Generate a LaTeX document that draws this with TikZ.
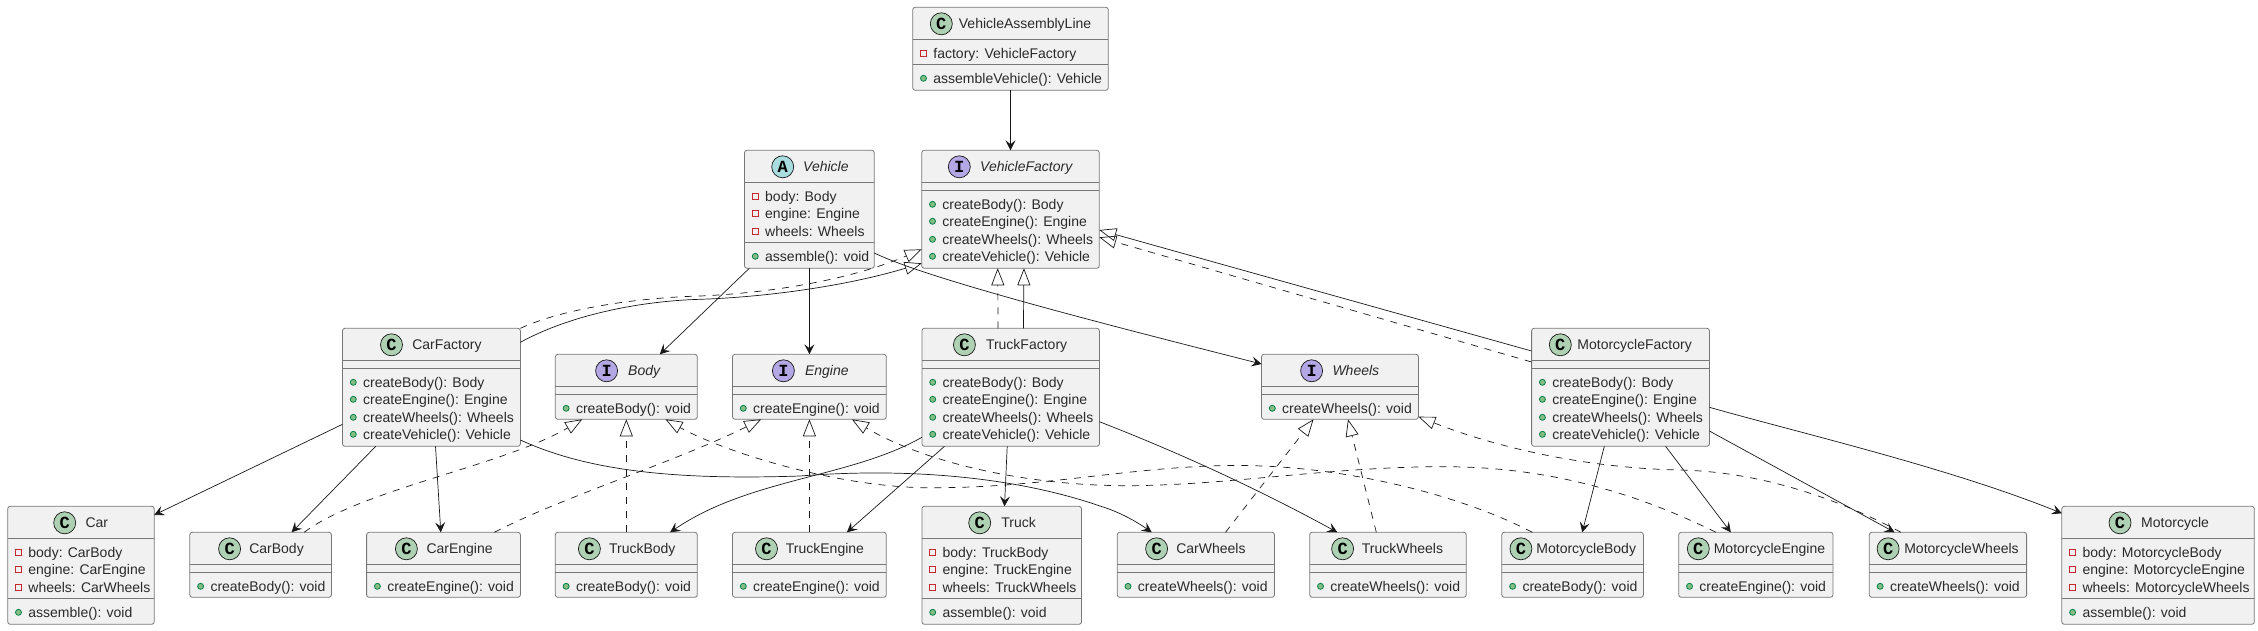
\documentclass[tikz,border=0pt]{standalone}
\usepackage{fontspec}
\setmainfont{Liberation Sans}
\newfontfamily\spotfont{Liberation Mono}
\usetikzlibrary{arrows.meta}
\definecolor{linedark}{HTML}{181818}
\definecolor{boxline}{HTML}{777777}
\definecolor{boxfill}{HTML}{F1F1F1}
\definecolor{spotC}{HTML}{ADD1B2}
\definecolor{spotA}{HTML}{A9DCDF}
\definecolor{spotI}{HTML}{B4A7E5}
\definecolor{privline}{HTML}{C82930}
\definecolor{publine}{HTML}{038048}
\definecolor{pubfill}{HTML}{84BE84}
\definecolor{textdark}{HTML}{2A2A2A}
\tikzset{
  classbox/.style={draw=boxline,fill=boxfill,line width=0.8pt,rounded corners=2.5pt,inner sep=0pt,outer sep=0pt},
  sepline/.style={draw=boxline,line width=0.8pt},
  spot/.style={circle,draw=linedark,line width=0.7pt,minimum size=22pt,inner sep=0pt,font=\spotfont\bfseries\fontsize{17pt}{17pt}\selectfont},
  titletext/.style={anchor=base west,inner sep=0pt,font=\fontsize{14pt}{16pt}\selectfont,text=textdark},
  membertext/.style={anchor=base west,inner sep=0pt,font=\fontsize{14pt}{16pt}\selectfont,text=textdark},
  privmark/.style={rectangle,draw=privline,line width=0.8pt,minimum size=6pt,inner sep=0pt},
  pubmark/.style={circle,draw=publine,fill=pubfill,line width=0.8pt,minimum size=6pt,inner sep=0pt},
  assoc/.style={draw=linedark,line width=0.7pt,-{Stealth[length=10pt,width=10pt,inset=4pt]}},
  extends/.style={draw=linedark,line width=0.7pt,-{Triangle[open,length=17pt,width=13pt]}},
  realizes/.style={extends,dash pattern=on 7pt off 7pt},
}
% name, left, top, right, bottom, offset of the second rule
\newcommand{\umlbox}[6]{
  \node[classbox,minimum width={(#4-#2)*1pt},minimum height={(#5-#3)*1pt}] (#1) at ({(#2+#4)/2},{(#3+#5)/2}) {};
  \draw[sepline] ([yshift=-32pt]#1.north west) -- ([yshift=-32pt]#1.north east);
  \draw[sepline] ([yshift=-#6pt]#1.north west) -- ([yshift=-#6pt]#1.north east);
}
% name, letter, spot offset, text offset, title
\newcommand{\umlhead}[5]{
  \node[spot,fill=spot#2] (#1Spot) at ([xshift=#3pt,yshift=-16.5pt]#1.north west) {#2};
  \node[titletext] (#1Title) at ([xshift=#4pt,yshift=-21.5pt]#1.north west) {#5};
}
% name, row, offset from the top, text
\newcommand{\umlfield}[4]{
  \node[privmark] (#1Mark#2) at ([xshift=10.8pt,yshift=-#3pt]#1.north west) {};
  \node[membertext] (#1Row#2) at ([xshift=20.5pt,yshift=-#3pt-5pt]#1.north west) {#4};
}
\newcommand{\umlmethod}[4]{
  \node[pubmark] (#1Mark#2) at ([xshift=10.8pt,yshift=-#3pt]#1.north west) {};
  \node[membertext] (#1Row#2) at ([xshift=20.5pt,yshift=-#3pt-5pt]#1.north west) {#4};
}
\begin{document}
\begin{tikzpicture}[x=1pt,y=-1pt]
  \useasboundingbox (0,0) rectangle (2258,630);

  %Top row
  \umlbox{AssemblyLine}{912.7}{7.3}{1108.3}{90.3}{57}
  \umlhead{AssemblyLine}{C}{28.6}{46}{VehicleAssemblyLine}
  \umlfield{AssemblyLine}{1}{45.7}{factory: VehicleFactory}
  \umlmethod{AssemblyLine}{2}{71}{assembleVehicle(): Vehicle}

  \umlbox{Vehicle}{744.5}{150.3}{874.3}{268.3}{92}
  \umlhead{Vehicle}{A}{38.2}{58.5}{\itshape Vehicle}
  \umlfield{Vehicle}{1}{46}{body: Body}
  \umlfield{Vehicle}{2}{63}{engine: Engine}
  \umlfield{Vehicle}{3}{81}{wheels: Wheels}
  \umlmethod{Vehicle}{4}{106}{assemble(): void}

  \umlbox{VehicleFactory}{921.7}{150.3}{1099.3}{268.3}{40}
  \umlhead{VehicleFactory}{I}{37.6}{58.3}{\itshape VehicleFactory}
  \umlmethod{VehicleFactory}{1}{54}{createBody(): Body}
  \umlmethod{VehicleFactory}{2}{71}{createEngine(): Engine}
  \umlmethod{VehicleFactory}{3}{89}{createWheels(): Wheels}
  \umlmethod{VehicleFactory}{4}{106}{createVehicle(): Vehicle}

  %Factories
  \umlbox{CarFactory}{342.5}{328.3}{520.4}{446.3}{40}
  \umlhead{CarFactory}{C}{49}{69.6}{CarFactory}
  \umlmethod{CarFactory}{1}{54}{createBody(): Body}
  \umlmethod{CarFactory}{2}{71}{createEngine(): Engine}
  \umlmethod{CarFactory}{3}{89}{createWheels(): Wheels}
  \umlmethod{CarFactory}{4}{106}{createVehicle(): Vehicle}

  \umlbox{TruckFactory}{921.9}{328.3}{1099.4}{446.3}{40}
  \umlhead{TruckFactory}{C}{42.5}{63.9}{TruckFactory}
  \umlmethod{TruckFactory}{1}{54}{createBody(): Body}
  \umlmethod{TruckFactory}{2}{71}{createEngine(): Engine}
  \umlmethod{TruckFactory}{3}{89}{createWheels(): Wheels}
  \umlmethod{TruckFactory}{4}{106}{createVehicle(): Vehicle}

  \umlbox{MotorcycleFactory}{1531.6}{328.3}{1709.4}{446.3}{40}
  \umlhead{MotorcycleFactory}{C}{28.7}{45.6}{MotorcycleFactory}
  \umlmethod{MotorcycleFactory}{1}{54}{createBody(): Body}
  \umlmethod{MotorcycleFactory}{2}{71}{createEngine(): Engine}
  \umlmethod{MotorcycleFactory}{3}{89}{createWheels(): Wheels}
  \umlmethod{MotorcycleFactory}{4}{106}{createVehicle(): Vehicle}

  %Interfaces
  \umlbox{Body}{555.3}{354.3}{697.3}{419.3}{40}
  \umlhead{Body}{I}{51.3}{72.7}{\itshape Body}
  \umlmethod{Body}{1}{54}{createBody(): void}

  \umlbox{Engine}{732.5}{354.3}{886.3}{419.3}{40}
  \umlhead{Engine}{I}{50.9}{72.3}{\itshape Engine}
  \umlmethod{Engine}{1}{54}{createEngine(): void}

  \umlbox{Wheels}{1261.5}{354.3}{1418.4}{419.3}{40}
  \umlhead{Wheels}{I}{50.1}{70.8}{\itshape Wheels}
  \umlmethod{Wheels}{1}{54}{createWheels(): void}

  %Vehicles
  \umlbox{Car}{7.7}{506.3}{154.2}{624.3}{92}
  \umlhead{Car}{C}{57}{77.6}{Car}
  \umlfield{Car}{1}{46}{body: CarBody}
  \umlfield{Car}{2}{63}{engine: CarEngine}
  \umlfield{Car}{3}{81}{wheels: CarWheels}
  \umlmethod{Car}{4}{106}{assemble(): void}

  \umlbox{Truck}{921.9}{506.3}{1081.5}{624.3}{92}
  \umlhead{Truck}{C}{57.8}{79.2}{Truck}
  \umlfield{Truck}{1}{46}{body: TruckBody}
  \umlfield{Truck}{2}{63}{engine: TruckEngine}
  \umlfield{Truck}{3}{81}{wheels: TruckWheels}
  \umlmethod{Truck}{4}{106}{assemble(): void}

  \umlbox{Motorcycle}{2061.8}{506.3}{2254.3}{624.3}{92}
  \umlhead{Motorcycle}{C}{58.2}{79.2}{Motorcycle}
  \umlfield{Motorcycle}{1}{46}{body: MotorcycleBody}
  \umlfield{Motorcycle}{2}{63}{engine: MotorcycleEngine}
  \umlfield{Motorcycle}{3}{81}{wheels: MotorcycleWheels}
  \umlmethod{Motorcycle}{4}{106}{assemble(): void}

  %Parts
  \umlbox{CarBody}{189.8}{532.3}{331.4}{597.3}{40}
  \umlhead{CarBody}{C}{39.8}{59.3}{CarBody}
  \umlmethod{CarBody}{1}{54}{createBody(): void}

  \umlbox{CarEngine}{366.6}{532.3}{520.4}{597.3}{40}
  \umlhead{CarEngine}{C}{39.8}{59.7}{CarEngine}
  \umlmethod{CarEngine}{1}{54}{createEngine(): void}

  \umlbox{TruckBody}{555.3}{532.3}{697.3}{597.3}{40}
  \umlhead{TruckBody}{C}{34.1}{53.6}{TruckBody}
  \umlmethod{TruckBody}{1}{54}{createBody(): void}

  \umlbox{TruckEngine}{732.5}{532.3}{886.3}{597.3}{40}
  \umlhead{TruckEngine}{C}{34}{53.2}{TruckEngine}
  \umlmethod{TruckEngine}{1}{54}{createEngine(): void}

  \umlbox{CarWheels}{1117.2}{532.3}{1274.5}{597.3}{40}
  \umlhead{CarWheels}{C}{39.4}{58.9}{CarWheels}
  \umlmethod{CarWheels}{1}{54}{createWheels(): void}

  \umlbox{TruckWheels}{1309.7}{532.3}{1466.2}{597.3}{40}
  \umlhead{TruckWheels}{C}{32.9}{52}{TruckWheels}
  \umlmethod{TruckWheels}{1}{54}{createWheels(): void}

  \umlbox{MotorcycleBody}{1501.8}{532.3}{1643.4}{597.3}{40}
  \umlhead{MotorcycleBody}{C}{19.1}{34.4}{MotorcycleBody}
  \umlmethod{MotorcycleBody}{1}{54}{createBody(): void}

  \umlbox{MotorcycleEngine}{1678.7}{532.3}{1833}{597.3}{40}
  \umlhead{MotorcycleEngine}{C}{19.6}{34.9}{MotorcycleEngine}
  \umlmethod{MotorcycleEngine}{1}{54}{createEngine(): void}

  \umlbox{MotorcycleWheels}{1869.3}{532.3}{2026.6}{597.3}{40}
  \umlhead{MotorcycleWheels}{C}{18.8}{34.8}{MotorcycleWheels}
  \umlmethod{MotorcycleWheels}{1}{54}{createWheels(): void}

  %Associations
  \draw[assoc] (AssemblyLine.south) -- (VehicleFactory.north);
  \draw[assoc] ([xshift=4.8pt]Vehicle.south west) -- ([xshift=104.5pt]Body.north west);
  \draw[assoc] (Vehicle.south) -- (Engine.north);
  \draw[assoc] ([yshift=15.3pt]Vehicle.south east) .. controls (930,280) and (1120,328) .. ([yshift=-9.7pt]Wheels.north west);
  \draw[assoc] ([yshift=22pt]CarFactory.south west) -- ([yshift=-8.7pt]Car.north east);
  \draw[assoc] ([xshift=33.3pt]CarFactory.south west) -- ([xshift=101.8pt]CarBody.north west);
  \draw[assoc] ([xshift=93pt]CarFactory.south west) -- ([xshift=74.2pt]CarEngine.north west);
  \draw[assoc] ([yshift=6.3pt]CarFactory.south east) .. controls (590,472) and (680,480) .. (800,476) .. controls (900,468) and (1010,475) .. (1100,506) .. controls (1120,512) and (1137,522) .. ([xshift=34.5pt]CarWheels.north west);
  \draw[assoc] ([yshift=9pt]TruckFactory.south west) .. controls (850,478) and (750,478) .. ([xshift=114.8pt]TruckBody.north west);
  \draw[assoc] ([xshift=22.6pt]TruckFactory.south west) -- ([xshift=114.4pt]TruckEngine.north west);
  \draw[assoc] ([xshift=85.3pt]TruckFactory.south west) -- ([xshift=82.6pt]Truck.north west);
  \draw[assoc] ([yshift=24.6pt]TruckFactory.south east) .. controls (1180,453) and (1260,490) .. ([xshift=27.6pt]TruckWheels.north west);
  \draw[assoc] ([xshift=72.7pt]MotorcycleFactory.south west) -- ([xshift=80.4pt]MotorcycleBody.north west);
  \draw[assoc] ([xshift=134pt]MotorcycleFactory.south west) -- ([xshift=52.1pt]MotorcycleEngine.north west);
  \draw[assoc] ([yshift=15.3pt]MotorcycleFactory.south east) -- ([xshift=25.3pt]MotorcycleWheels.north west);
  \draw[assoc] ([yshift=39pt]MotorcycleFactory.south east) .. controls (1800,433) and (1950,468) .. ([yshift=-7pt]Motorcycle.north west);

  %Factory inheritance
  \draw[extends] ([yshift=-14pt]CarFactory.north east) .. controls (570,315) and (640,301) .. (700,299.3) .. controls (770,297) and (850,285) .. ([yshift=5pt]VehicleFactory.south west);
  \draw[realizes] (CarFactory.north east) .. controls (560,310) and (630,298) .. (700,296) .. controls (770,293) and (850,280) .. ([yshift=19pt]VehicleFactory.south west);
  \draw[extends] ([xshift=101.5pt]TruckFactory.north west) -- ([xshift=102.3pt]VehicleFactory.south west);
  \draw[realizes] ([xshift=76.1pt]TruckFactory.north west) -- ([xshift=76pt]VehicleFactory.south west);
  \draw[extends] ([yshift=-22.7pt]MotorcycleFactory.north west) -- ([yshift=38.3pt]VehicleFactory.south east);
  \draw[realizes] ([yshift=-33.7pt]MotorcycleFactory.north west) -- ([yshift=31pt]VehicleFactory.south east);

  %Parts to interfaces
  \draw[realizes] ([xshift=114.4pt]CarBody.north west) .. controls (360,490) and (505,465) .. ([xshift=26.9pt]Body.south west);
  \draw[realizes] (TruckBody.north) -- (Body.south);
  \draw[realizes] ([xshift=30.6pt]MotorcycleBody.north west) .. controls (1465,497) and (1350,466) .. (1240,465.5) .. controls (1140,465) and (1050,487) .. (940,487.7) .. controls (840,490) and (720,450) .. ([xshift=110.2pt]Body.south west);
  \draw[realizes] ([xshift=127.8pt]CarEngine.north west) .. controls (560,498) and (680,460) .. ([xshift=28.7pt]Engine.south west);
  \draw[realizes] (TruckEngine.north) -- (Engine.south);
  \draw[realizes] ([xshift=37.3pt]MotorcycleEngine.north west) .. controls (1650,500) and (1560,466) .. (1440,466.7) .. controls (1330,467) and (1230,485) .. (1130,485.7) .. controls (1020,486) and (920,460) .. ([xshift=119.4pt]Engine.south west);
  \draw[realizes] ([xshift=108.3pt]CarWheels.north west) -- ([xshift=52pt]Wheels.south west);
  \draw[realizes] ([xshift=66.6pt]TruckWheels.north west) -- ([xshift=86.5pt]Wheels.south west);
  \draw[realizes] ([xshift=31.7pt]MotorcycleWheels.north west) .. controls (1850,505) and (1770,472) .. (1680,470) .. controls (1580,468) and (1490,445) .. ([yshift=2.6pt]Wheels.south east);
\end{tikzpicture}
\end{document}
